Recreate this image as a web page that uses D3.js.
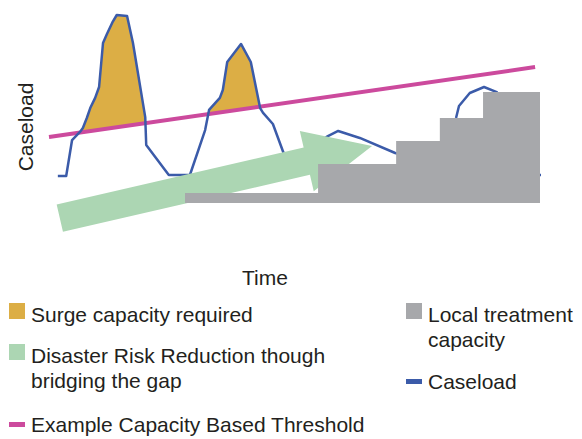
<!DOCTYPE html>
<html>
<head>
<meta charset="utf-8">
<script src="https://cdn.jsdelivr.net/npm/d3@7"></script>
<style>
  body { margin: 0; background: #fff; }
  text { font-family: "Liberation Sans", Arial, sans-serif; fill: #231f20; }
</style>
</head>
<body>
<div id="chart"></div>
<script>
const width = 582, height = 439;

// caseload over time (time 0-100, caseload 0-100)
const caseT = [1.8, 3.5, 4.7, 6.3, 6.9, 7.7, 8.4, 9.4, 10.2, 11.0, 11.8, 13.0, 13.8, 15.9, 17.1, 19.6, 19.8, 24.4, 28.7,
  31.8, 32.6, 34.8, 35.4, 36.3, 39.1, 41.1, 43.0, 43.6, 45.6, 47.7, 49.5, 53.2, 55.6, 56.8, 58.9, 63.3, 70.5,
  74.5, 79.6, 82.1, 82.9, 83.5, 85.7, 88.6, 91.2, 93.9, 96.9, 99.0, 100.2];
const caseV = [14.4, 14.4, 33.5, 37.8, 39.9, 45.2, 50.5, 55.9, 61.7, 85.1, 89.9, 96.5, 100, 99.5, 85.1, 45.7, 30.9, 14.9, 14.9,
  38.8, 49.5, 55.9, 60.1, 75.0, 84.6, 75.0, 50.5, 47.9, 42.0, 27.1, 20.2, 22.9, 33.5, 35.6, 38.3, 34.6, 26.6,
  23.9, 28.2, 37.8, 45.2, 51.6, 58.5, 61.7, 59.0, 44.1, 22.9, 14.9, 14.9];

// example capacity based threshold
const thrT = [0, 99];
const thrV = [35.1, 72.3];

// local treatment capacity (steps)
const capT = [27.7, 54.8, 70.7, 79.6, 88.4, 100];
const capV = [5.3, 20.7, 33.0, 45.2, 59.0, 59.0];

// disaster risk reduction arrow (start, tip)
const arrowT = [2.2, 65.8];
const arrowV = [-8.0, 30.3];

const legendLeft = [
  { label: ["Surge capacity required"], color: "#dcae45", kind: "box" },
  { label: ["Disaster Risk Reduction though", "bridging the gap"], color: "#acd6b3", kind: "box" },
  { label: ["Example Capacity Based Threshold"], color: "#cc4a9d", kind: "bar" }
];
const legendRight = [
  { label: ["Local treatment", "capacity"], color: "#a7a8ab", kind: "box" },
  { label: ["Caseload"], color: "#3b5ba9", kind: "bar" }
];

const x = d3.scaleLinear().domain([0, 100]).range([49, 540]);
const y = d3.scaleLinear().domain([0, 100]).range([203, 15]);
const thr = d3.scaleLinear().domain(thrT).range(thrV);

const svg = d3.select("#chart").append("svg")
    .attr("width", width)
    .attr("height", height);

const caseData = caseT.map((t, i) => [t, caseV[i]]);

// clip: region above threshold line
const defs = svg.append("defs");
defs.append("clipPath").attr("id", "aboveThr")
  .append("path")
    .attr("d", `M${x(-5)},${y(thr(-5))}L${x(105)},${y(thr(105))}L${x(105)},0L${x(-5)},0Z`);

// surge capacity fill
svg.append("path")
    .datum(caseData)
    .attr("clip-path", "url(#aboveThr)")
    .attr("fill", "#dcae45")
    .attr("d", d3.area().x(d => x(d[0])).y0(y(0)).y1(d => y(d[1])));

// threshold line
svg.append("path")
    .datum(thrT.map((t, i) => [t, thrV[i]]))
    .attr("fill", "none")
    .attr("stroke", "#cc4a9d")
    .attr("stroke-width", 4)
    .attr("d", d3.line().x(d => x(d[0])).y(d => y(d[1])));

// caseload line
svg.append("path")
    .datum(caseData)
    .attr("fill", "none")
    .attr("stroke", "#3b5ba9")
    .attr("stroke-width", 2.5)
    .attr("stroke-linejoin", "round")
    .attr("d", d3.line().x(d => x(d[0])).y(d => y(d[1])));

// green arrow
const ax0 = x(arrowT[0]), ay0 = y(arrowV[0]), ax1 = x(arrowT[1]), ay1 = y(arrowV[1]);
const len = Math.hypot(ax1 - ax0, ay1 - ay0);
const ux = (ax1 - ax0) / len, uy = (ay1 - ay0) / len;
const nx = -uy, ny = ux;
const shaftW = 14, headW = 31, headL = 67;
const bx = ax1 - ux * headL, by = ay1 - uy * headL;
const pt = (px, py, k) => [px + nx * k, py + ny * k];
const arrowPts = [
  pt(ax0, ay0, -shaftW), pt(bx, by, -shaftW), pt(bx, by, -headW),
  [ax1, ay1],
  pt(bx, by, headW), pt(bx, by, shaftW), pt(ax0, ay0, shaftW)
];
svg.append("path")
    .attr("fill", "#acd6b3")
    .attr("d", "M" + arrowPts.map(p => p.join(",")).join("L") + "Z");

// local treatment capacity steps
svg.append("path")
    .datum(capT.map((t, i) => [t, capV[i]]))
    .attr("fill", "#a7a8ab")
    .attr("d", d3.area().curve(d3.curveStepAfter).x(d => x(d[0])).y0(y(0)).y1(d => y(d[1])));

// axis titles
svg.append("text")
    .attr("transform", "translate(33,127) rotate(-90)")
    .attr("text-anchor", "middle")
    .attr("font-size", 21)
    .text("Caseload");
svg.append("text")
    .attr("x", 265).attr("y", 285)
    .attr("text-anchor", "middle")
    .attr("font-size", 21)
    .text("Time");

// legend (baselines of first line)
function drawLegend(items, lx, baselines) {
  items.forEach((d, i) => {
    const b = baselines[i];
    if (d.kind === "box") {
      svg.append("rect").attr("x", lx).attr("y", b - 19).attr("width", 16).attr("height", 16).attr("fill", d.color);
    } else {
      svg.append("rect").attr("x", lx).attr("y", b - 10).attr("width", 16).attr("height", 5).attr("fill", d.color);
    }
    const t = svg.append("text").attr("font-size", 21);
    d.label.forEach((line, j) => {
      t.append("tspan").attr("x", lx + 22).attr("y", b + j * 25).text(line);
    });
  });
}
drawLegend(legendLeft, 9, [322, 363, 432]);
drawLegend(legendRight, 406, [322, 389]);
</script>
</body>
</html>
